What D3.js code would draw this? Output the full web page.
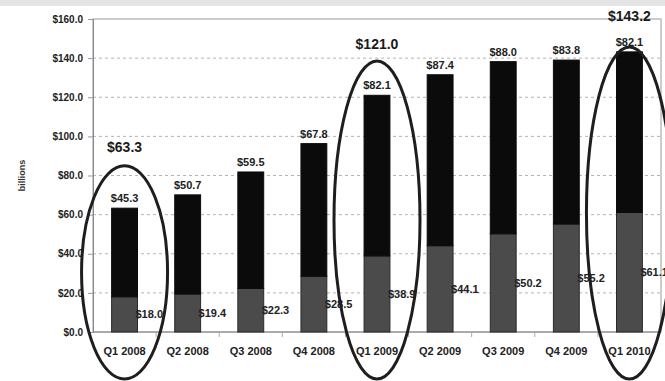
<!DOCTYPE html>
<html>
<head>
<meta charset="utf-8">
<script src="https://cdn.jsdelivr.net/npm/d3@7"></script>
<style>
  body { margin: 0; background: #fff; }
  svg { display: block; font-family: Arial, "Liberation Sans", sans-serif; }
</style>
</head>
<body>
<svg id="chart"></svg>
<script>
// quarters on the x axis
const quarters = ["Q1 2008", "Q2 2008", "Q3 2008", "Q4 2008", "Q1 2009", "Q2 2009", "Q3 2009", "Q4 2009", "Q1 2010"];
// lower (gray) segment and upper (black) segment, in billions
const lowerValues = [18.0, 19.4, 22.3, 28.5, 38.9, 44.1, 50.2, 55.2, 61.1];
const upperValues = [45.3, 50.7, 59.5, 67.8, 82.1, 87.4, 88.0, 83.8, 82.1];
const yTicks = [0, 20, 40, 60, 80, 100, 120, 140, 160];
// circled quarters with their totals
const circled = ["Q1 2008", "Q1 2009", "Q1 2010"];
const circledTotals = ["$63.3", "$121.0", "$143.2"];

const W = 665, H = 381;
const margin = { top: 19, right: 4, bottom: 49, left: 93 };
const width = W - margin.left - margin.right;
const height = H - margin.top - margin.bottom;

const svg = d3.select("#chart").attr("width", W).attr("height", H);

// gray strip at the very top
svg.append("rect").attr("x", 0).attr("y", 0).attr("width", W).attr("height", 6).attr("fill", "#e4e4e4");

const g = svg.append("g").attr("transform", "translate(" + margin.left + "," + margin.top + ")");

const x = d3.scaleBand()
  .domain(quarters)
  .range([0, width])
  .paddingInner(0.59)
  .paddingOuter(0.295);

const y = d3.scaleLinear().domain([0, 160]).range([height, 0]);

const fmt = v => "$" + v.toFixed(1);

// gridlines
g.append("g")
  .selectAll("line")
  .data(yTicks.filter(d => d > 0 && d < 160))
  .enter().append("line")
  .attr("x1", 0).attr("x2", width)
  .attr("y1", d => y(d)).attr("y2", d => y(d))
  .attr("stroke", "#b4b4b4")
  .attr("stroke-dasharray", "3,3");

// frame
g.append("rect")
  .attr("x", 0).attr("y", 0).attr("width", width).attr("height", height)
  .attr("fill", "none").attr("stroke", "#9a9a9a").attr("stroke-width", 1);

// y axis
const yAxis = g.append("g")
  .call(d3.axisLeft(y).tickValues(yTicks).tickFormat(fmt).tickSize(5).tickPadding(5));
yAxis.select(".domain").attr("stroke", "#888");
yAxis.selectAll(".tick line").attr("stroke", "#999");
yAxis.selectAll("text").attr("font-size", 10).attr("font-weight", "bold").attr("fill", "#222")
  .attr("font-family", "Arial, 'Liberation Sans', sans-serif");

// x axis, ticks between categories
const xAxis = g.append("g").attr("transform", "translate(0," + height + ")");
xAxis.append("line").attr("x1", 0).attr("x2", width).attr("stroke", "#888");
xAxis.selectAll(".sep")
  .data(quarters.slice(1))
  .enter().append("line")
  .attr("x1", d => x(d) - x.step() * x.paddingInner() / 2)
  .attr("x2", d => x(d) - x.step() * x.paddingInner() / 2)
  .attr("y1", 0).attr("y2", 5)
  .attr("stroke", "#aaa");
xAxis.selectAll(".lbl")
  .data(quarters)
  .enter().append("text")
  .attr("x", d => x(d) + x.bandwidth() / 2)
  .attr("y", 23)
  .attr("text-anchor", "middle")
  .attr("font-size", 11).attr("font-weight", "bold").attr("fill", "#222")
  .text(d => d);

// y axis title
svg.append("text")
  .attr("transform", "translate(25," + (margin.top + y(80)) + ") rotate(-90)")
  .attr("text-anchor", "middle")
  .attr("font-size", 9).attr("font-weight", "bold").attr("fill", "#333")
  .text("billions");

const rows = quarters.map((q, i) => ({ q: q, lo: lowerValues[i], hi: upperValues[i] }));

// lower segments
g.selectAll(".lo")
  .data(rows)
  .enter().append("rect")
  .attr("x", d => x(d.q))
  .attr("y", d => y(d.lo))
  .attr("width", x.bandwidth())
  .attr("height", d => height - y(d.lo))
  .attr("fill", "#4b4b4b")
  .attr("stroke", "#2a2a2a");

// upper segments
g.selectAll(".hi")
  .data(rows)
  .enter().append("rect")
  .attr("x", d => x(d.q))
  .attr("y", d => y(d.lo + d.hi))
  .attr("width", x.bandwidth())
  .attr("height", d => y(d.lo) - y(d.lo + d.hi))
  .attr("fill", "#0b0b0b")
  .attr("stroke", "#0b0b0b");

// labels above bars
g.selectAll(".hiLbl")
  .data(rows)
  .enter().append("text")
  .attr("x", d => x(d.q) + x.bandwidth() / 2)
  .attr("y", d => y(d.lo + d.hi) - 6)
  .attr("text-anchor", "middle")
  .attr("font-size", 11).attr("font-weight", "bold").attr("fill", "#222")
  .text(d => fmt(d.hi));

// labels right of lower segments
g.selectAll(".loLbl")
  .data(rows)
  .enter().append("text")
  .attr("x", d => x(d.q) + x.bandwidth() - 2)
  .attr("y", d => (y(d.lo) + height) / 2 + 4)
  .attr("text-anchor", "start")
  .attr("font-size", 11).attr("font-weight", "bold").attr("fill", "#222")
  .text(d => fmt(d.lo));

// hand-drawn style ellipses around the first quarters
const ellipseTop = [85, 138.5, 145.7];
const totalLift = [14, 12, 26];
circled.forEach((q, i) => {
  const cx = x(q) + x.bandwidth() / 2;
  const top = y(ellipseTop[i]);
  const bottom = height + 47;
  g.append("ellipse")
    .attr("cx", cx)
    .attr("cy", (top + bottom) / 2)
    .attr("rx", 43)
    .attr("ry", (bottom - top) / 2)
    .attr("fill", "none")
    .attr("stroke", "#1e1e1e")
    .attr("stroke-width", 3);
  g.append("text")
    .attr("x", cx)
    .attr("y", top - totalLift[i])
    .attr("text-anchor", "middle")
    .attr("font-size", 14).attr("font-weight", "bold").attr("fill", "#1a1a1a")
    .text(circledTotals[i]);
});
</script>
</body>
</html>
